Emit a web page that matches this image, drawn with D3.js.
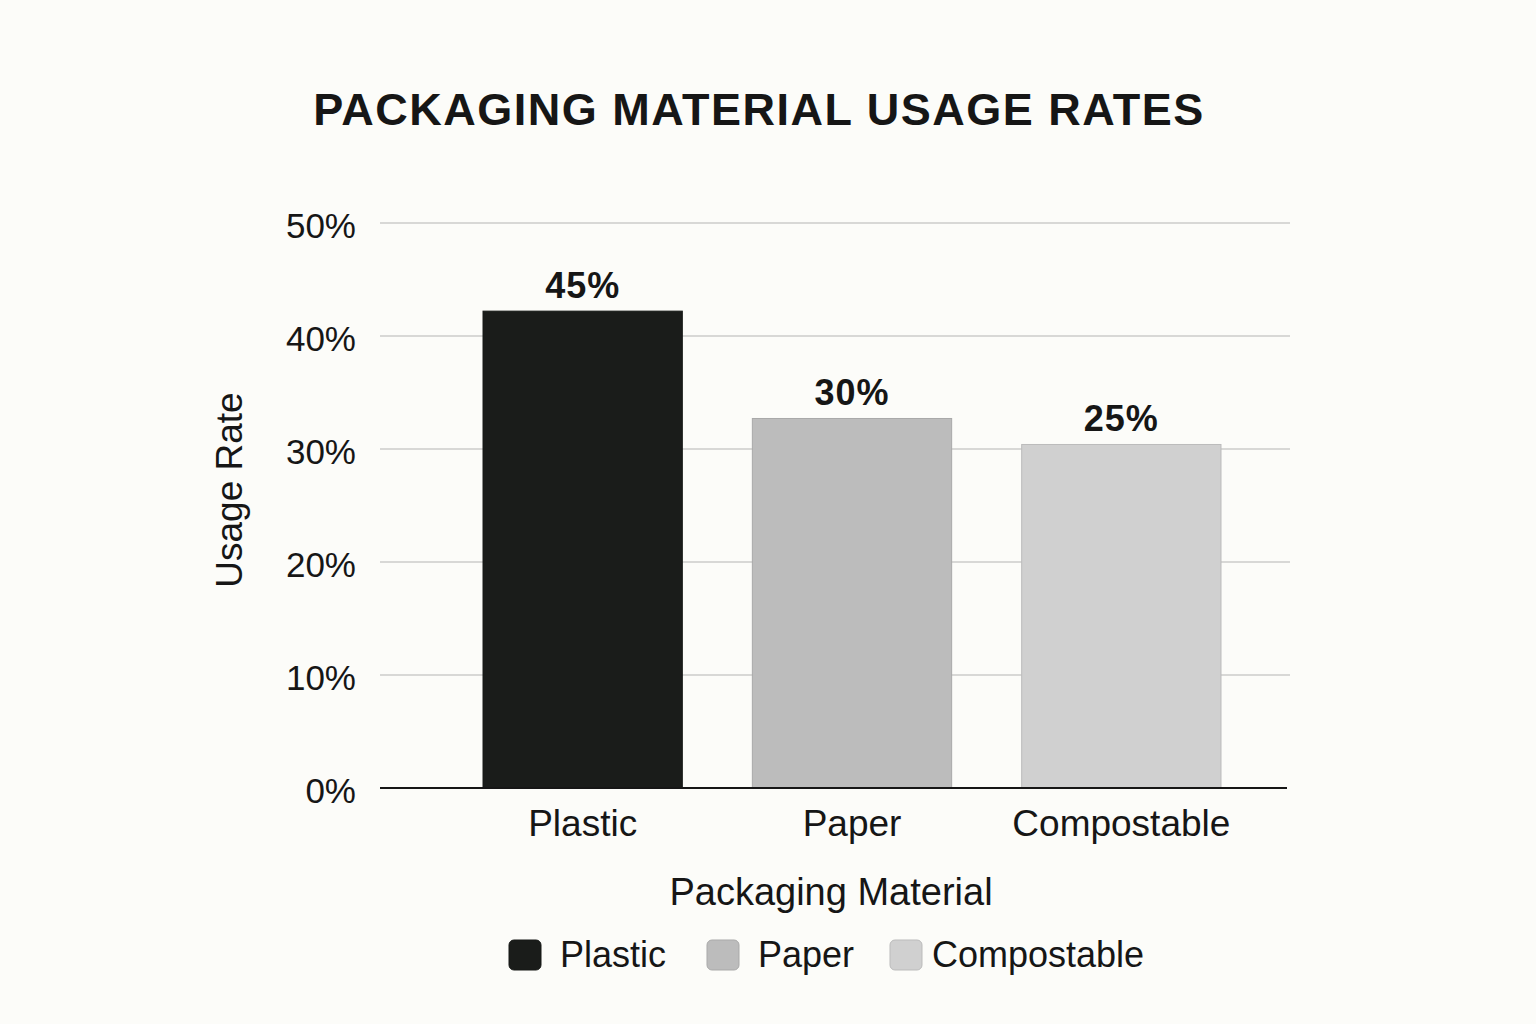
<!DOCTYPE html>
<html lang="en">
<head>
    <meta charset="UTF-8" />
    <title>Packaging Material Usage Rates</title>
    <script src="https://d3js.org/d3.v7.min.js"></script>
    <style>
        html, body { margin: 0; padding: 0; background: #fcfcf9; }
        svg { display: block; font-family: "Liberation Sans", Arial, sans-serif; }
    </style>
</head>
<body>
    <script>
        // data
        var materials = ["Plastic", "Paper", "Compostable"];
        var barValues = [42.2, 32.7, 30.4];          // bar heights as drawn
        var valueLabels = ["45%", "30%", "25%"];     // printed labels
        var barColors = ["#1a1c1a", "#bcbcbc", "#d0d0d0"];
        var yTicks = [0, 10, 20, 30, 40, 50];

        var w = 1536, h = 1024;
        var svg = d3.select("body").append("svg")
            .attr("width", w)
            .attr("height", h);

        var plotLeft = 380, plotRight = 1290, plotTop = 223, plotBottom = 788;

        var yScale = d3.scaleLinear()
            .domain([0, 50])
            .range([plotBottom, plotTop]);

        var xScale = d3.scaleBand()
            .domain(materials)
            .range([448, 1256])
            .paddingInner(0.26)
            .paddingOuter(0.13);

        var color = d3.scaleOrdinal().domain(materials).range(barColors);

        // title
        svg.append("text")
            .attr("x", 759)
            .attr("y", 125)
            .attr("text-anchor", "middle")
            .attr("font-size", 45)
            .attr("font-weight", "bold")
            .attr("letter-spacing", 1.5)
            .attr("fill", "#161616")
            .text("PACKAGING MATERIAL USAGE RATES");

        // gridlines
        svg.append("g")
            .selectAll("line")
            .data(yTicks.filter(function (d) { return d > 0; }))
            .enter()
            .append("line")
            .attr("x1", plotLeft)
            .attr("x2", plotRight)
            .attr("y1", function (d) { return yScale(d); })
            .attr("y2", function (d) { return yScale(d); })
            .attr("stroke", "#d8d8d6")
            .attr("stroke-width", 2);

        // y axis labels
        var yAxis = svg.append("g")
            .attr("transform", "translate(" + plotLeft + ",0)")
            .call(d3.axisLeft(yScale)
                .tickValues(yTicks)
                .tickSize(0)
                .tickPadding(24)
                .tickFormat(function (d) { return d + "%"; }));
        yAxis.select(".domain").remove();
        yAxis.selectAll("text")
            .attr("font-family", "Liberation Sans, Arial, sans-serif")
            .attr("font-size", 35)
            .attr("dy", "0.4em")
            .attr("fill", "#161616");

        // bars
        svg.selectAll(".bar")
            .data(materials)
            .enter()
            .append("rect")
            .attr("class", "bar")
            .attr("x", function (d) { return xScale(d); })
            .attr("width", xScale.bandwidth())
            .attr("y", function (d, i) { return yScale(barValues[i]); })
            .attr("height", function (d, i) { return plotBottom - yScale(barValues[i]); })
            .attr("fill", function (d) { return color(d); })
            .attr("stroke", function (d) { return d3.color(color(d)).darker(0.3); })
            .attr("stroke-width", 1);

        // value labels
        svg.selectAll(".value")
            .data(materials)
            .enter()
            .append("text")
            .attr("class", "value")
            .attr("x", function (d) { return xScale(d) + xScale.bandwidth() / 2; })
            .attr("y", function (d, i) { return yScale(barValues[i]) - 13; })
            .attr("text-anchor", "middle")
            .attr("font-size", 36)
            .attr("font-weight", "bold")
            .attr("letter-spacing", 1)
            .attr("fill", "#161616")
            .text(function (d, i) { return valueLabels[i]; });

        // x axis
        var xAxis = svg.append("g")
            .attr("transform", "translate(0," + plotBottom + ")")
            .call(d3.axisBottom(xScale).tickSize(0).tickPadding(22));
        xAxis.select(".domain")
            .attr("d", "M" + plotLeft + ",0H" + 1287)
            .attr("stroke", "#161616")
            .attr("stroke-width", 2);
        xAxis.selectAll("text")
            .attr("font-family", "Liberation Sans, Arial, sans-serif")
            .attr("font-size", 37)
            .attr("fill", "#161616");

        // axis titles
        svg.append("text")
            .attr("x", 831)
            .attr("y", 905)
            .attr("text-anchor", "middle")
            .attr("font-size", 38)
            .attr("fill", "#161616")
            .text("Packaging Material");

        svg.append("text")
            .attr("transform", "rotate(-90)")
            .attr("x", -490)
            .attr("y", 242)
            .attr("text-anchor", "middle")
            .attr("font-size", 37)
            .attr("fill", "#161616")
            .text("Usage Rate");

        // legend
        var legendX = [509, 707, 890];
        var legendTextX = [51, 51, 42];
        var legend = svg.selectAll(".legend")
            .data(materials)
            .enter()
            .append("g")
            .attr("class", "legend")
            .attr("transform", function (d, i) { return "translate(" + legendX[i] + ",940)"; });
        legend.append("rect")
            .attr("width", 32)
            .attr("height", 30)
            .attr("rx", 5)
            .attr("fill", function (d) { return color(d); })
            .attr("stroke", function (d) { return d3.color(color(d)).darker(0.3); })
            .attr("stroke-width", 1);
        legend.append("text")
            .attr("x", function (d, i) { return legendTextX[i]; })
            .attr("y", 27)
            .attr("font-size", 36)
            .attr("fill", "#161616")
            .text(function (d) { return d; });
    </script>
</body>
</html>
